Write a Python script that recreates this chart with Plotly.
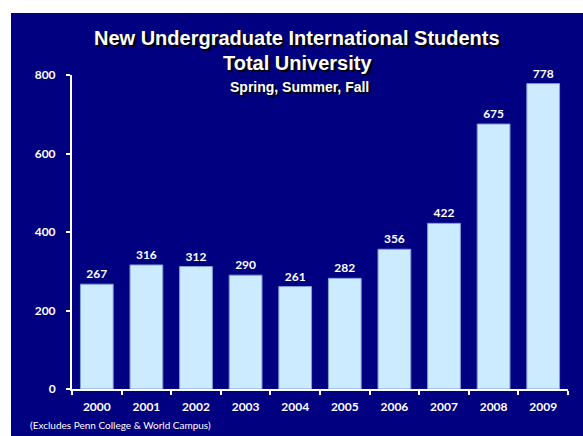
import plotly.graph_objects as go

years = ["2000", "2001", "2002", "2003", "2004", "2005", "2006", "2007", "2008", "2009"]
students = [267, 316, 312, 290, 261, 282, 356, 422, 675, 778]
y_ticks = [0, 200, 400, 600, 800]

W, H = 583, 436
L, R, T, B = 72, 15, 75, 47
pw, ph = W - L - R, H - T - B

def px_x(p):
    return (p - L) / pw

def px_y(p):
    return (H - B - p) / ph

fig = go.Figure()
fig.add_trace(go.Bar(
    x=years, y=students,
    marker=dict(color="#CCEBFF", line=dict(color="#7F9FD6", width=1)),
    text=students, textposition="outside", cliponaxis=False,
    textfont=dict(family="Lato", size=12, color="white", weight="bold"),
))

fig.add_shape(type="rect", xref="paper", yref="paper",
              x0=px_x(11), x1=px_x(W + 2), y0=px_y(H + 2), y1=px_y(13),
              fillcolor="#000080", line=dict(width=0), layer="below")

shadow = "2px 2px 1px #000000"
annos = [
    ("New Undergraduate International Students", 38, 20),
    ("Total University", 63, 20),
]
for txt, yy, sz in annos:
    fig.add_annotation(text=txt, xref="paper", yref="paper",
                       x=px_x(297), y=px_y(yy), showarrow=False,
                       xanchor="center", yanchor="middle",
                       font=dict(family="Liberation Sans", size=sz, color="white",
                                 weight="bold", shadow=shadow))
fig.add_annotation(text="Spring, Summer, Fall", xref="paper", yref="paper",
                   x=px_x(299), y=px_y(87), showarrow=False,
                   xanchor="center", yanchor="middle",
                   font=dict(family="Liberation Sans", size=14, color="white",
                             weight="bold", shadow=shadow))
fig.add_annotation(text="(Excludes Penn College & World Campus)", xref="paper", yref="paper",
                   x=px_x(28), y=px_y(425), showarrow=False,
                   xanchor="left", yanchor="middle",
                   font=dict(family="Lato", size=10, color="white"))

fig.update_layout(
    width=W, height=H,
    margin=dict(l=L, r=R, t=T, b=B),
    paper_bgcolor="white", plot_bgcolor="#000080",
    bargap=0.34, showlegend=False,
    xaxis=dict(type="category", showline=True, linecolor="white", linewidth=2,
               ticks="outside", tickson="boundaries", tickcolor="white",
               ticklen=4, tickwidth=2, showgrid=False, ticklabelstandoff=6,
               tickfont=dict(family="Lato", size=12, color="white", weight="bold")),
    yaxis=dict(range=[0, 800], tickvals=y_ticks, showline=True, linecolor="white",
               linewidth=2, ticks="outside", tickcolor="white", ticklen=4,
               tickwidth=2, showgrid=False, zeroline=False, ticklabelstandoff=8,
               tickfont=dict(family="Lato", size=12, color="white", weight="bold")),
)

fig.write_html("out.html")
